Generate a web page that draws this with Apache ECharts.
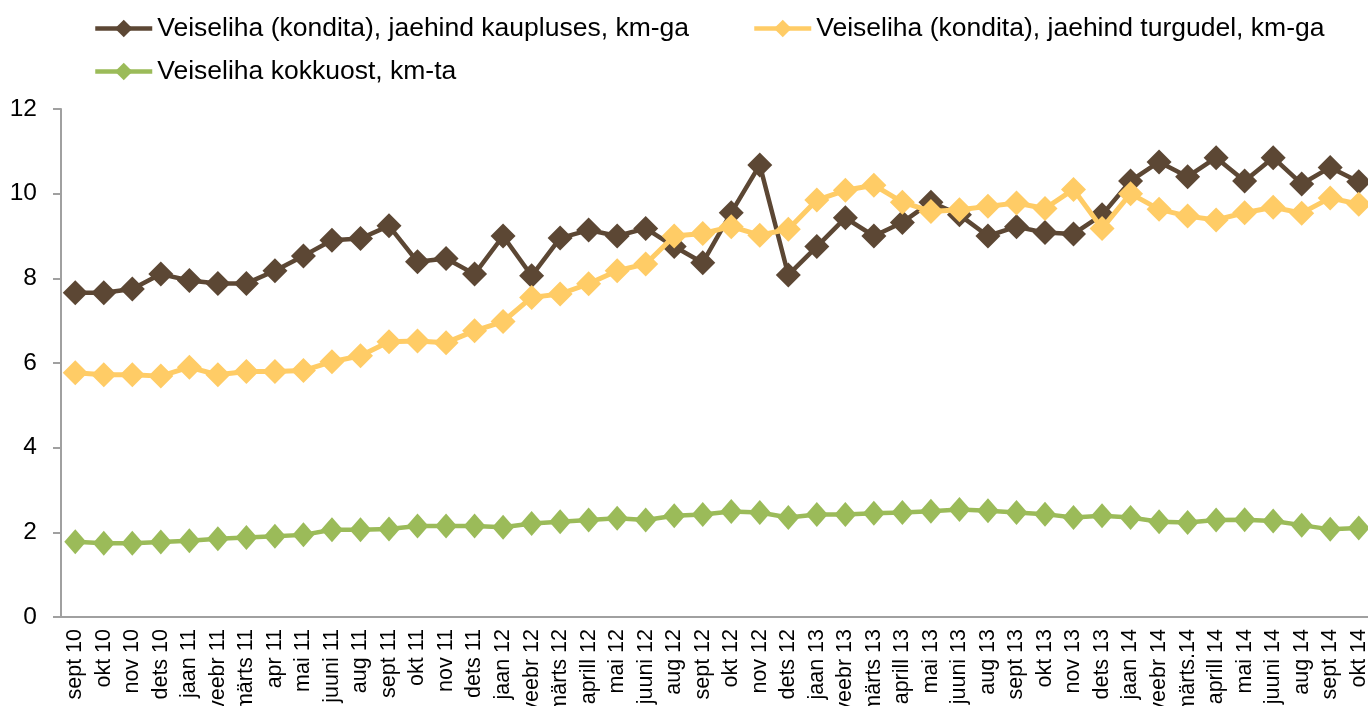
<!DOCTYPE html>
<html>
<head>
<meta charset="utf-8">
<script src="https://cdn.jsdelivr.net/npm/echarts@6/dist/echarts.min.js"></script>
<style>
  html, body { margin: 0; padding: 0; background: #fff; }
  #chart { width: 1368px; height: 706px; }
</style>
</head>
<body>
<div id="chart"></div>
<script>
// Months on the category axis
const months = [
  'sept 10', 'okt 10', 'nov 10', 'dets 10', 'jaan 11', 'veebr 11', 'märts 11', 'apr 11',
  'mai 11', 'juuni 11', 'aug 11', 'sept 11', 'okt 11', 'nov 11', 'dets 11', 'jaan 12',
  'veebr 12', 'märts 12', 'aprill 12', 'mai 12', 'juuni 12', 'aug 12', 'sept 12', 'okt 12',
  'nov 12', 'dets 12', 'jaan 13', 'veebr 13', 'märts 13', 'aprill 13', 'mai 13', 'juuni 13',
  'aug 13', 'sept 13', 'okt 13', 'nov 13', 'dets 13', 'jaan 14', 'veebr 14', 'märts.14',
  'aprill 14', 'mai 14', 'juuni 14', 'aug 14', 'sept 14', 'okt 14'
];

// Retail price in shops (EUR/kg, incl. VAT)
const kauplus = [
  7.66, 7.66, 7.75, 8.10, 7.95, 7.88, 7.88, 8.18, 8.53, 8.90, 8.94, 9.24, 8.39, 8.47, 8.10, 9.00,
  8.06, 8.95, 9.14, 9.00, 9.18, 8.75, 8.37, 9.55, 10.68, 8.08, 8.75, 9.43, 9.00, 9.32, 9.80, 9.50,
  9.00, 9.22, 9.08, 9.05, 9.50, 10.30, 10.75, 10.40, 10.85, 10.30, 10.85, 10.23, 10.62, 10.28
];

// Retail price at markets (EUR/kg, incl. VAT)
const turg = [
  5.77, 5.72, 5.72, 5.69, 5.90, 5.72, 5.80, 5.80, 5.82, 6.03, 6.17, 6.50, 6.52, 6.48, 6.76, 6.98,
  7.55, 7.63, 7.87, 8.18, 8.34, 9.00, 9.06, 9.22, 9.02, 9.16, 9.85, 10.08, 10.20, 9.80, 9.58, 9.62,
  9.70, 9.78, 9.65, 10.10, 9.18, 10.00, 9.63, 9.47, 9.38, 9.55, 9.68, 9.54, 9.90, 9.75
];

// Purchase price (EUR/kg, excl. VAT)
const kokkuost = [
  1.78, 1.74, 1.74, 1.77, 1.80, 1.85, 1.88, 1.91, 1.94, 2.06, 2.06, 2.08, 2.15, 2.15, 2.15, 2.12,
  2.21, 2.25, 2.29, 2.33, 2.29, 2.39, 2.42, 2.49, 2.47, 2.35, 2.42, 2.42, 2.45, 2.47, 2.50, 2.54,
  2.51, 2.47, 2.43, 2.35, 2.39, 2.35, 2.25, 2.23, 2.29, 2.30, 2.27, 2.17, 2.07, 2.10
];

const yTicks = { min: 0, max: 12, step: 2 };

const names = [
  'Veiseliha (kondita), jaehind kaupluses, km-ga',
  'Veiseliha (kondita), jaehind turgudel, km-ga',
  'Veiseliha kokkuost, km-ta'
];
const colors = ['#5C4734', '#FFCC66', '#9BBB59'];
const widths = [4.5, 5, 4.5];
const FONT = '"Liberation Sans", Arial, sans-serif';

const legendBase = {
  orient: 'horizontal',
  padding: 0,
  itemWidth: 57,
  itemHeight: 22,
  itemGap: 60,
  lineStyle: { width: 4.5 },
  textStyle: { fontFamily: FONT, fontSize: 26.5, color: '#000' }
};

const chart = echarts.init(document.getElementById('chart'), null, { renderer: 'canvas' });
chart.setOption({
  animation: false,
  backgroundColor: '#fff',
  textStyle: { fontFamily: FONT },
  legend: [
    Object.assign({}, legendBase, { left: 93, top: 15, data: [names[0]] }),
    Object.assign({}, legendBase, { left: 752, top: 15, data: [names[1]] }),
    Object.assign({}, legendBase, { left: 93, top: 58, data: [names[2]] })
  ],
  grid: {
    left: 61, top: 109, width: 1312, height: 508,
    containLabel: false,
    outerBoundsMode: 'none'
  },
  xAxis: {
    type: 'category',
    data: months,
    boundaryGap: true,
    axisLine: { lineStyle: { color: '#A0A0A0', width: 2 } },
    axisTick: { show: false },
    axisLabel: {
      interval: 0,
      rotate: 90,
      margin: 12,
      fontFamily: FONT,
      fontSize: 21.5,
      color: '#000'
    },
    splitLine: { show: false }
  },
  yAxis: {
    type: 'value',
    min: yTicks.min,
    max: yTicks.max,
    interval: yTicks.step,
    axisLine: { show: true, lineStyle: { color: '#A0A0A0', width: 2 } },
    axisTick: { show: true, inside: false, length: 8, lineStyle: { color: '#A0A0A0', width: 2 } },
    axisLabel: { margin: 24, fontFamily: FONT, fontSize: 24.5, color: '#000' },
    splitLine: { show: false }
  },
  series: [kauplus, turg, kokkuost].map((vals, i) => ({
    name: names[i],
    type: 'line',
    data: vals,
    symbol: 'diamond',
    symbolSize: i === 2 ? [22, 25] : [25, 25],
    showAllSymbol: true,
    itemStyle: { color: colors[i] },
    lineStyle: { color: colors[i], width: widths[i] },
    emphasis: { disabled: true },
    z: 2 + i
  }))
});
</script>
</body>
</html>
